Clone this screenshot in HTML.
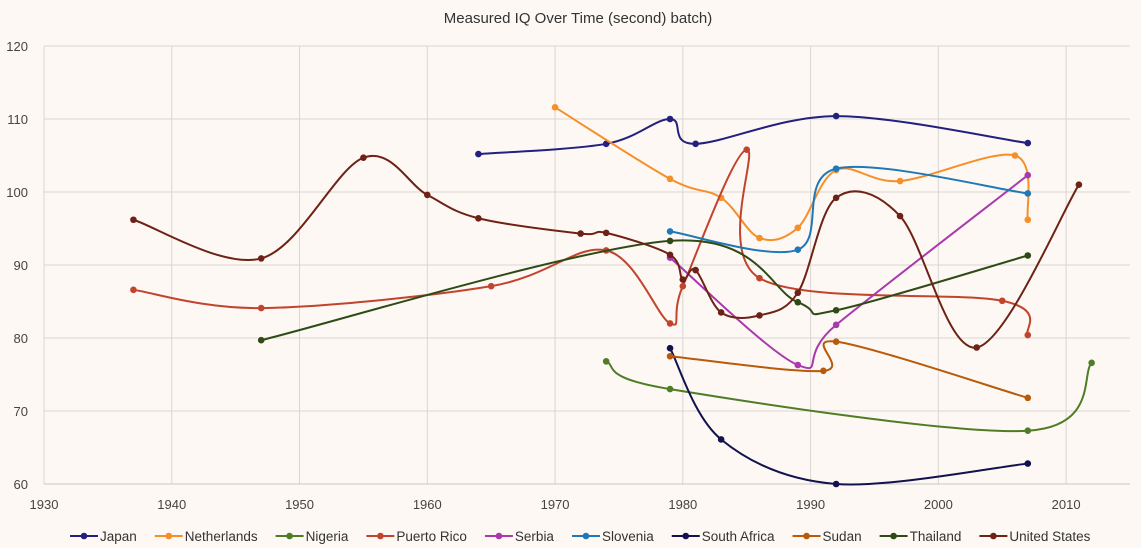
<!DOCTYPE html>
<html><head><meta charset="utf-8"><style>
body{margin:0;background:#fdf8f3;}
svg{display:block;font-family:"Liberation Sans",sans-serif;}
</style></head><body>
<svg id="chart" width="1141" height="548" viewBox="0 0 1141 548">
<rect width="1141" height="548" fill="#fdf8f3"/>
<text x="578" y="23" text-anchor="middle" font-size="15" fill="#333">Measured IQ Over Time (second) batch)</text>
<g id="grid"></g><g id="series"></g><g id="legend"></g>
</svg>
<script>
const xTicks=[1930,1940,1950,1960,1970,1980,1990,2000,2010];
const yTicks=[60,70,80,90,100,110,120];
const seriesNames=["Japan","Netherlands","Nigeria","Puerto Rico","Serbia","Slovenia","South Africa","Sudan","Thailand","United States"];
const seriesColors=["#23207e","#f58f2a","#4f7d26","#c1442d","#a83aab","#1f78b8","#12124e","#b85a0a","#2e4b16","#6e2216"];
const japanYears=[1964,1974,1979,1981,1992,2007];
const japanIQ=[105.2,106.6,110,106.6,110.4,106.7];
const netherlandsYears=[1970,1979,1983,1986,1989,1992,1997,2006,2007];
const netherlandsIQ=[111.6,101.8,99.2,93.7,95.1,103,101.5,105,96.2];
const nigeriaYears=[1974,1979,2007,2012];
const nigeriaIQ=[76.8,73,67.3,76.6];
const puertoRicoYears=[1937,1947,1965,1974,1979,1980,1985,1986,2005,2007];
const puertoRicoIQ=[86.6,84.1,87.1,92,82,87.1,105.8,88.2,85.1,80.4];
const serbiaYears=[1979,1989,1992,2007];
const serbiaIQ=[91,76.3,81.8,102.3];
const sloveniaYears=[1979,1989,1992,2007];
const sloveniaIQ=[94.6,92.1,103.2,99.8];
const southAfricaYears=[1979,1983,1992,2007];
const southAfricaIQ=[78.6,66.1,60,62.8];
const sudanYears=[1979,1991,1992,2007];
const sudanIQ=[77.5,75.5,79.5,71.8];
const thailandYears=[1947,1979,1989,1992,2007];
const thailandIQ=[79.7,93.3,84.9,83.8,91.3];
const usYears=[1937,1947,1955,1960,1964,1972,1974,1979,1980,1981,1983,1986,1989,1992,1997,2003,2011];
const usIQ=[96.2,90.9,104.7,99.6,96.4,94.3,94.4,91.4,88,89.3,83.5,83.1,86.2,99.2,96.7,78.7,101];
const seriesYears=[japanYears,netherlandsYears,nigeriaYears,puertoRicoYears,serbiaYears,sloveniaYears,southAfricaYears,sudanYears,thailandYears,usYears];
const seriesIQ=[japanIQ,netherlandsIQ,nigeriaIQ,puertoRicoIQ,serbiaIQ,sloveniaIQ,southAfricaIQ,sudanIQ,thailandIQ,usIQ];

const NS="http://www.w3.org/2000/svg";
const X0=44,X1=1130,Y0=484,Y1=46,XMIN=1930,XMAX=2015,YMIN=60,YMAX=120;
function xs(v){return X0+(v-XMIN)/(XMAX-XMIN)*(X1-X0);}
function ys(v){return Y0-(v-YMIN)/(YMAX-YMIN)*(Y0-Y1);}
function mk(t,a,p){const e=document.createElementNS(NS,t);for(const k in a)e.setAttribute(k,a[k]);p.appendChild(e);return e;}
const grid=document.getElementById('grid');
xTicks.forEach(t=>{
  const l=mk('line',{x1:xs(t),x2:xs(t),y1:Y1,y2:Y0,stroke:'#d9d6d3','stroke-width':1},grid);
  
  
  const tx=mk('text',{x:xs(t),y:Y0+25,'text-anchor':'middle','font-size':13,fill:'#444'},grid);
  tx.textContent=t;
  
  
});
yTicks.forEach(t=>{
  const l=mk('line',{x1:X0,x2:X1,y1:ys(t),y2:ys(t),stroke:t===60?'#c9c6c3':'#d9d6d3','stroke-width':1},grid);
  
  
  const tx=mk('text',{x:28,y:ys(t)+5,'text-anchor':'end','font-size':13,fill:'#444'},grid);
  tx.textContent=t;
  
  
});
function smooth(pts){
  let d='M'+pts[0][0]+','+pts[0][1];
  for(let i=0;i<pts.length-1;i++){
    const p0=pts[i-1]||pts[i],p1=pts[i],p2=pts[i+1],p3=pts[i+2]||p2;
    const c1=[p1[0]+(p2[0]-p0[0])/6,p1[1]+(p2[1]-p0[1])/6];
    const c2=[p2[0]-(p3[0]-p1[0])/6,p2[1]-(p3[1]-p1[1])/6];
    d+=' C'+c1+' '+c2+' '+p2;
  }
  return d;
}
const sg=document.getElementById('series');
seriesNames.forEach((n,i)=>{
  const g=mk('g',{},sg);
  
  
  const pts=seriesYears[i].map((yr,j)=>[xs(yr),ys(seriesIQ[i][j])]);
  const p=mk('path',{d:smooth(pts),fill:'none',stroke:seriesColors[i],'stroke-width':2},g);
  
  
  pts.forEach(q=>{
    const c=mk('circle',{cx:q[0],cy:q[1],r:3.3,fill:seriesColors[i]},g);
    
    
  });
});
const lg=document.getElementById('legend');
let lx=70;
seriesNames.forEach((n,i)=>{
  const g=mk('g',{},lg);
  
  
  mk('line',{x1:lx,x2:lx+28,y1:536,y2:536,stroke:seriesColors[i],'stroke-width':2},g);
  mk('circle',{cx:lx+14,cy:536,r:3.3,fill:seriesColors[i]},g);
  const t=mk('text',{x:lx+30,y:541,'font-size':13.5,fill:'#333'},g);
  t.textContent=n;
  lx+=30+t.getComputedTextLength()+18;
});
</script>
</body></html>
